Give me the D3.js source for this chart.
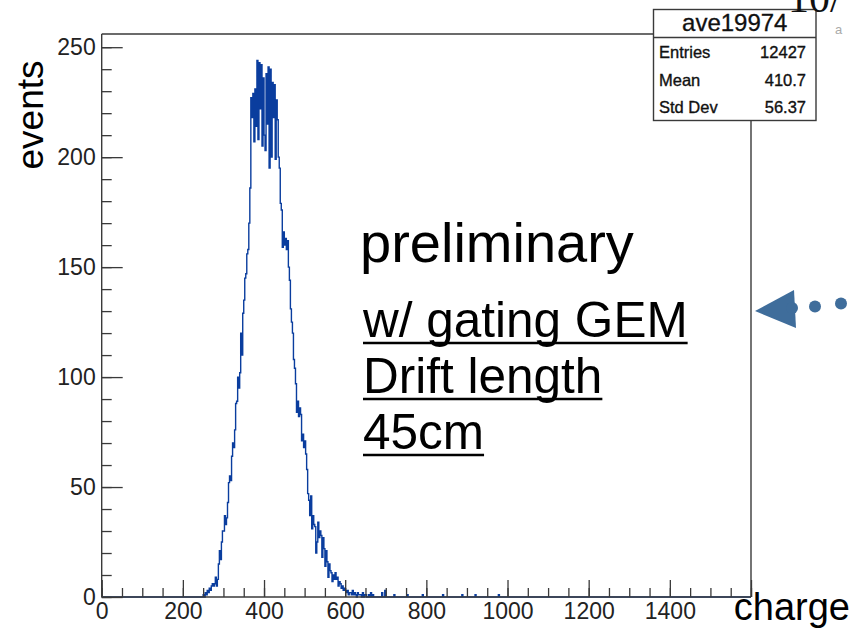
<!DOCTYPE html>
<html>
<head>
<meta charset="utf-8">
<script src="https://cdn.jsdelivr.net/npm/d3@7"></script>
<style>
  html, body { margin: 0; padding: 0; background: #fff; }
  svg { display: block; }
  text { font-family: "Liberation Sans", Arial, Helvetica, sans-serif; }
</style>
</head>
<body>
<svg id="chart" width="852" height="629"></svg>
<script>
// Charge spectrum, 2.5-unit bins over 0..1600
const binWidth = 2.5;
const binStart = 250;   // charge of the first bin listed in mainCounts
const mainCounts = [
  1, 0, 2, 1, 3, 2, 4, 3, 5, 6, 5,
  6, 9, 5, 8,
  15, 21, 17, 25, 30, 30, 37, 33, 36, 43,
  52, 55, 53, 64, 70, 68, 76, 88, 89, 100,
  95, 102, 120, 110, 129, 135, 145, 147, 156, 158,
  170, 186, 227, 218, 229, 207, 231, 214, 244, 208,
  243, 222, 242, 205, 236, 210, 203, 238, 215, 241,
  195, 240, 200, 234, 218, 233, 199, 226, 217, 200,
  195, 179, 176, 159, 166, 160, 163, 158, 162, 150,
  144, 131, 125, 120, 108, 104, 97, 84, 89, 82,
  86, 83, 71, 74, 68, 71, 65, 58, 47, 44,
  37, 46, 31, 37, 33, 32, 20, 25, 34, 27,
  30, 28, 18, 27, 22, 14, 21, 16, 9, 15,
  12, 11, 7, 10, 8, 11, 8, 9, 5, 7,
  6, 4, 5, 3, 4, 3, 2,
  3, 1, 2, 2, 1, 3, 1, 2, 1, 0, 2, 1, 1,
  1, 0, 2, 0, 1, 1, 0, 0, 1, 0, 2, 0, 1
];
// isolated entries in the high-charge tail
const tailCharges = [690, 697.5, 720, 752.5, 790, 840, 887.5, 920, 977.5];
const tailCounts  = [2, 3, 1, 1, 1, 1, 1, 1, 1];

const xTicksMajor = [0, 200, 400, 600, 800, 1000, 1200, 1400, 1600];
const xTickLabels = ["0", "200", "400", "600", "800", "1000", "1200", "1400", ""];
const yTicksMajor = [0, 50, 100, 150, 200, 250];

const statsTitle = "ave19974";
const statsNames = ["Entries", "Mean", "Std Dev"];
const statsValues = ["12427", "410.7", "56.37"];

const noteLines = ["w/ gating GEM", "Drift length", "45cm"];

// ---- build the full bin table ----
const nBins = Math.round(1600 / binWidth);
const counts = new Array(nBins).fill(0);
const first = Math.round(binStart / binWidth);
mainCounts.forEach((c, i) => { counts[first + i] = c; });
tailCharges.forEach((q, i) => { counts[Math.floor(q / binWidth)] = tailCounts[i]; });

const svg = d3.select("#chart");
const frameColor = "#3a3a3a";

const x = d3.scaleLinear().domain([0, 1600]).range([101.7, 751]);
const y = d3.scaleLinear().domain([0, 256]).range([597, 34]);

// ---- histogram step line ----
const pts = [[x(0), y(0)]];
counts.forEach((c, i) => {
  pts.push([x(i * binWidth), y(c)]);
  pts.push([x((i + 1) * binWidth), y(c)]);
});
pts.push([x(1600), y(0)]);
svg.append("path")
  .attr("d", d3.line()(pts))
  .attr("fill", "none")
  .attr("stroke", "#0a3d9e")
  .attr("stroke-width", 1.4)
  .attr("stroke-linejoin", "miter");

// ---- axes ----
const xMinor = d3.range(0, 1601, 50);
const yMinor = d3.range(0, 256, 10);

const gx = svg.append("g").attr("transform", `translate(0,${y(0)})`);
gx.append("g").call(d3.axisBottom(x).tickValues(xMinor).tickSize(-9).tickFormat(""));
gx.append("g").call(d3.axisBottom(x).tickValues(xTicksMajor).tickSize(-17).tickPadding(6)
  .tickFormat((d, i) => xTickLabels[i]));

const gy = svg.append("g").attr("transform", `translate(${x(0)},0)`);
gy.append("g").call(d3.axisLeft(y).tickValues(yMinor).tickSize(-10).tickFormat(""));
gy.append("g").call(d3.axisLeft(y).tickValues(yTicksMajor).tickSize(-21).tickPadding(6)
  .tickFormat(d3.format("d")));

svg.selectAll(".domain").remove();
svg.selectAll(".tick line").attr("stroke", frameColor).attr("stroke-width", 1.3);
svg.selectAll(".tick text")
  .attr("fill", "#222")
  .style("font-size", "23px");

// ---- frame ----
const statsBox = { x0: 653.5, x1: 816, y0: 9.5, y1: 120.5, split: 37.5 };
const frame = svg.append("g").attr("stroke", frameColor).attr("stroke-width", 1.4).attr("fill", "none");
frame.append("line").attr("x1", x(0)).attr("x2", x(0)).attr("y1", y(256)).attr("y2", y(0));
frame.append("line").attr("x1", x(0)).attr("x2", x(1600)).attr("y1", y(0)).attr("y2", y(0));
frame.append("line").attr("x1", x(0)).attr("x2", statsBox.x0).attr("y1", y(256)).attr("y2", y(256));
frame.append("line").attr("x1", x(1600)).attr("x2", x(1600)).attr("y1", statsBox.y1).attr("y2", y(0));

// ---- axis titles ----
svg.append("text")
  .attr("transform", "translate(43,115) rotate(-90)")
  .attr("text-anchor", "middle")
  .style("font-size", "37px")
  .attr("fill", "#000")
  .text("events");
svg.append("text")
  .attr("x", 850).attr("y", 620)
  .attr("text-anchor", "end")
  .style("font-size", "38px")
  .attr("fill", "#000")
  .text("charge");

// ---- statistics box ----
const sb = svg.append("g");
sb.append("rect")
  .attr("x", statsBox.x0).attr("y", statsBox.y0)
  .attr("width", statsBox.x1 - statsBox.x0).attr("height", statsBox.y1 - statsBox.y0)
  .attr("fill", "#fff").attr("stroke", frameColor).attr("stroke-width", 1.4);
sb.append("line")
  .attr("x1", statsBox.x0).attr("x2", statsBox.x1)
  .attr("y1", statsBox.split).attr("y2", statsBox.split)
  .attr("stroke", frameColor).attr("stroke-width", 1.4);
sb.append("text")
  .attr("x", (statsBox.x0 + statsBox.x1) / 2).attr("y", 31)
  .attr("text-anchor", "middle")
  .style("font-size", "24px").attr("fill", "#111")
  .attr("stroke", "#111").attr("stroke-width", 0.3)
  .text(statsTitle);
statsNames.forEach((n, i) => {
  const by = 58 + i * 27.5;
  sb.append("text").attr("x", 659).attr("y", by)
    .style("font-size", "16.5px").attr("fill", "#111")
    .attr("stroke", "#111").attr("stroke-width", 0.35)
    .text(n);
  sb.append("text").attr("x", 806).attr("y", by)
    .attr("text-anchor", "end")
    .style("font-size", "16.5px").attr("fill", "#111")
    .attr("stroke", "#111").attr("stroke-width", 0.35)
    .text(statsValues[i]);
});

// ---- annotations ----
svg.append("text")
  .attr("x", 360).attr("y", 262)
  .style("font-size", "56px").attr("fill", "#000")
  .text("preliminary");

noteLines.forEach((t, i) => {
  const by = 337 + i * 56;
  const txt = svg.append("text")
    .attr("x", 363).attr("y", by)
    .style("font-size", "49.5px").attr("fill", "#000")
    .text(t);
  const w = txt.node().getComputedTextLength();
  svg.append("line")
    .attr("x1", 363).attr("x2", 363 + w)
    .attr("y1", by + 6).attr("y2", by + 6)
    .attr("stroke", "#000").attr("stroke-width", 2.5);
});

// arrow pointing at the frame from the right
const arrowColor = "#3f6d9b";
svg.append("path")
  .attr("d", "M755,311 L794,290 L796,328 Z")
  .attr("fill", arrowColor);
[[792, 308], [815, 306.5], [841, 303.5]].forEach(([cx, cy]) => {
  svg.append("circle").attr("cx", cx).attr("cy", cy).attr("r", 6).attr("fill", arrowColor);
});

// fragments of neighbouring text at the top edge
svg.append("text")
  .attr("x", 788).attr("y", 12)
  .style("font-family", "'Liberation Serif', 'DejaVu Serif', serif")
  .style("font-size", "42px").attr("fill", "#111")
  .text("10/");
svg.append("text")
  .attr("x", 835).attr("y", 34)
  .style("font-size", "13px").attr("fill", "#aaa")
  .text("a");
</script>
</body>
</html>
